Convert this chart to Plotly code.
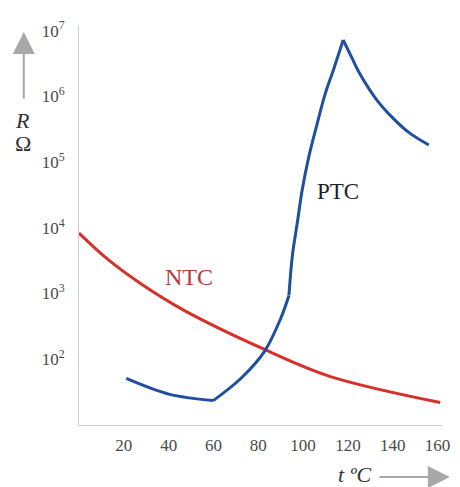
import plotly.graph_objects as go

# NTC thermistor (red)
ntc_t = [0, 12.9, 27.6, 46.7, 82.8, 111.9, 161.2]
ntc_r = [8300, 3300, 1410, 560, 141, 55, 22]

# PTC thermistor (blue)
ptc_t = [21.1, 40.1, 59.9, 72.2, 82.8, 90.0, 93.7, 95.2, 97.4, 99.6, 102.5, 106.2, 109.8, 113.5, 117.9,
         122.3, 125.2, 132.6, 140.0, 147.3, 156.1]
ptc_r = [51, 29.5, 23.5, 51, 132, 417, 935, 3700, 11800, 37500, 118000, 372000, 1.07e6, 2.5e6, 7.2e6,
         3.55e6, 2.24e6, 9.1e5, 4.7e5, 2.8e5, 1.82e5]

x_ticks = [20, 40, 60, 80, 100, 120, 140, 160]
y_ticks = [1e2, 1e3, 1e4, 1e5, 1e6, 1e7]
y_ticktext = ["10<sup>2</sup>", "10<sup>3</sup>", "10<sup>4</sup>", "10<sup>5</sup>", "10<sup>6</sup>", "10<sup>7</sup>"]

RED = "#d6302a"
BLUE = "#1f4f9e"

fig = go.Figure()
fig.add_trace(go.Scatter(x=ntc_t, y=ntc_r, mode="lines",
                         line=dict(color=RED, width=3, shape="spline", smoothing=1.0),
                         showlegend=False))
# PTC drawn in pieces so the corners stay sharp
segments = [(0, 3), (2, 7), (6, 15), (14, 21)]
for a, b in segments:
    fig.add_trace(go.Scatter(x=ptc_t[a:b], y=ptc_r[a:b], mode="lines",
                             line=dict(color=BLUE, width=3, shape="spline", smoothing=1.0),
                             showlegend=False))

serif = "Liberation Serif, Times New Roman, serif"
tickfont = dict(family=serif, size=17, color="#4a4a4a")

# the page body has an 8px margin, so the figure is shrunk and the margins shifted
fig.update_layout(
    width=452, height=479,
    margin=dict(l=71, r=13, t=10, b=62),
    plot_bgcolor="white", paper_bgcolor="white",
    font=dict(family=serif, size=17, color="#4a4a4a"),
    xaxis=dict(range=[0, 162], tickvals=x_ticks, showgrid=False, zeroline=False,
               showline=True, linecolor="#cccccc", linewidth=1, ticks="",
               ticklabelstandoff=5, tickfont=tickfont),
    yaxis=dict(type="log", range=[1, 7.07], tickvals=y_ticks, ticktext=y_ticktext,
               showgrid=False, zeroline=False, showline=True, linecolor="#cccccc",
               linewidth=1, ticks="", ticklabelstandoff=10, tickfont=tickfont),
)

W, H = 368, 407
def px(xp):
    return (xp - 79) / W
def py(yp):
    return (425 - yp) / H

def label(text, x, y, size, color):
    return dict(text=text, x=px(x), y=py(y), xref="paper", yref="paper", showarrow=False,
                xanchor="center", yanchor="middle",
                font=dict(family=serif, size=size, color=color))

annotations = [
    label("NTC", 191, 274, 24, "#b5403b"),
    label("PTC", 342, 187, 23, "#1e1e1e"),
    label("<i>R</i>", 22, 114, 22, "#333333"),
    label("Ω", 22, 138, 22, "#333333"),
    label("<i>t</i> <i>ºC</i>", 358, 476, 22, "#333333"),
    # y arrow
    dict(text="", x=px(23), y=py(24), xref="paper", yref="paper", showarrow=True,
         ax=0, ay=68, arrowhead=2, arrowsize=2.2, arrowwidth=2, arrowcolor="#a8a8a8"),
    # x arrow
    dict(text="", x=px(455), y=py(478), xref="paper", yref="paper", showarrow=True,
         ax=-72, ay=0, arrowhead=2, arrowsize=2.2, arrowwidth=2, arrowcolor="#a8a8a8"),
]
fig.update_layout(annotations=annotations)

fig.write_html("out.html")
